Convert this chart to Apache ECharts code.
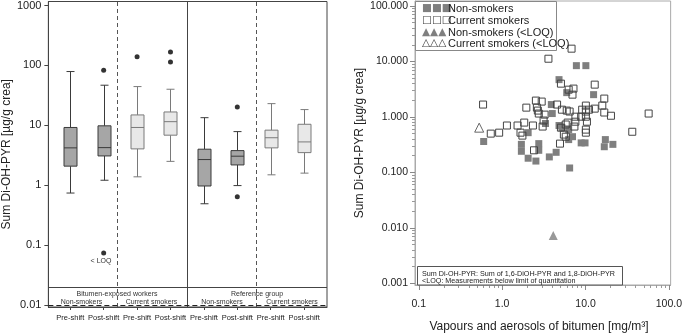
<!DOCTYPE html>
<html><head><meta charset="utf-8">
<script src="https://cdn.jsdelivr.net/npm/echarts@6/dist/echarts.min.js"></script>
<style>html,body{margin:0;padding:0;background:#fff}#c{width:685px;height:336px}</style>
</head><body><div id="c"></div>
<script>
// ---------- LEFT: box plots ----------
const groups = ['Pre-shift','Post-shift','Pre-shift','Post-shift','Pre-shift','Post-shift','Pre-shift','Post-shift'];
const groupPos = [1,2,3,4,5,6,7,8];
// [min, q1, median, q3, max]
const boxStats = [
  [0.74, 2.08, 4.2, 9.2, 79],
  [1.21, 3.08, 4.24, 9.8, 46.7],
  [1.38, 4.04, 9.2, 14.9, 44.3],
  [2.5, 6.84, 11.5, 16.7, 40],
  [0.49, 0.97, 2.68, 3.99, 13.4],
  [0.985, 2.18, 3.05, 3.78, 7.85],
  [1.49, 4.2, 6.2, 8.3, 23],
  [1.59, 3.5, 5.28, 10.4, 18.3]
];
const boxSmoker = [false,false,true,true,false,false,true,true];
const outliers = [[2,83],[2,0.074],[3,140],[4,168],[4,114],[6,20.3],[6,0.64]];
const leftYTicks = [0.01,0.1,1,10,100,1000];

// ---------- RIGHT: scatter ----------
const nonSmokers = [
  [0.60,0.36],[1.70,0.32],[1.70,0.24],[2.05,0.52],[2.05,0.18],[2.54,0.16],[2.75,0.33],[2.75,0.25],
  [3.31,0.76],[3.89,1.67],[3.99,1.15],[3.68,0.19],[4.44,0.23],[4.81,4.70],[5.95,2.74],[7.77,8.40],
  [10.1,8.40],[4.81,0.70],[5.21,0.64],[6.28,0.59],[6.28,0.39],[6.98,0.44],[6.45,0.12],[8.87,0.34],
  [9.87,0.34],[12.5,2.52],[17.3,0.39],[16.8,0.29],[21.3,0.32]
];
const currentSmokers = [
  [0.59,1.67],[0.73,0.50],[0.92,0.52],[1.14,0.70],[1.53,0.70],[1.66,0.52],[1.75,0.46],[1.84,0.79],
  [1.95,1.47],[2.34,0.70],[2.54,1.97],[2.98,1.89],[2.61,1.47],[2.68,1.30],[2.75,1.15],[3.23,1.10],
  [3.14,0.86],[3.06,0.67],[2.41,0.25],[3.59,11.2],[4.56,1.67],[6.80,17.0],[5.07,3.98],[6.28,3.10],
  [7.17,3.24],[6.98,2.52],[5.21,1.35],[5.95,1.30],[6.45,1.25],[7.56,1.01],[8.87,1.01],[10.1,1.25],
  [11.0,1.35],[10.1,1.60],[12.9,3.82],[16.8,2.14],[12.9,1.41],[15.9,1.60],[16.8,1.20],[20.2,1.05],
  [10.1,1.01],[10.4,0.82],[10.1,0.59],[10.1,0.52],[5.07,0.64],[5.79,0.73],[6.11,0.79],[7.36,0.67],
  [7.56,0.82],[5.50,0.48],[5.79,0.44],[4.94,0.33],[57.2,1.15],[36.4,0.54],[9.12,1.35]
];
const nonSmokersLOQ = [[4.10,0.0073]];
const currentSmokersLOQ = [[0.53,0.64]];
const rightYTicks = [0.001,0.01,0.1,1,10,100];
const rightXTicks = [0.1,1,10,100];
function minorTicks(lo, hi){ const r=[]; for(let e=lo;e<hi;e++){ for(let m=2;m<=9;m++) r.push(+(m*Math.pow(10,e)).toPrecision(3)); } return r; }
const rightXMinor = minorTicks(-1,2);
const rightYMinor = minorTicks(-3,2);

const FONT = '"Liberation Sans", Arial, sans-serif';
const chart = echarts.init(document.getElementById('c'), null, {renderer:'canvas'});

function renderBox(params, api){
  const x = api.value(0);
  const p = [1,2,3,4,5].map(d => api.coord([x, api.value(d)]));
  const cx = Math.round(p[0][0]) + 0.5;
  const hw = 6.5, cw = 4;
  const smoker = boxSmoker[params.dataIndex];
  const stroke = smoker ? '#7a7a7a' : '#3a3a3a';
  const fill = smoker ? '#e8e8e8' : '#a6a6a6';
  const s = {stroke, lineWidth:1, fill:null};
  return {type:'group', children:[
    {type:'line', shape:{x1:cx,y1:p[0][1],x2:cx,y2:p[1][1]}, style:s},
    {type:'line', shape:{x1:cx,y1:p[3][1],x2:cx,y2:p[4][1]}, style:s},
    {type:'line', shape:{x1:cx-cw,y1:p[0][1],x2:cx+cw,y2:p[0][1]}, style:s},
    {type:'line', shape:{x1:cx-cw,y1:p[4][1],x2:cx+cw,y2:p[4][1]}, style:s},
    {type:'rect', shape:{x:cx-hw,y:p[3][1],width:2*hw,height:p[1][1]-p[3][1]}, style:{fill, stroke, lineWidth:1}},
    {type:'line', shape:{x1:cx-hw,y1:p[2][1],x2:cx+hw,y2:p[2][1]}, style:s}
  ]};
}

function label(x, y, text, size, extra){
  return {type:'text', x, y, silent:true, z:11, style:Object.assign({text, fontSize:size, fontFamily:FONT, fill:'#333',
    align:'center', verticalAlign:'middle'}, extra||{})};
}
const leftAlign = {align:'left', fill:'#222'};

const option = {
  animation:false,
  backgroundColor:'#fff',
  grid:[
    {left:47, top:1, width:280, height:306, show:true, borderColor:'#444', borderWidth:1, backgroundColor:'transparent'},
    {left:415, top:1, width:266, height:284, show:true, borderColor:'#aaa', borderWidth:1, backgroundColor:'transparent'}
  ],
  xAxis:[
    {gridIndex:0, type:'value', min:0.345, max:8.685,
      axisLine:{show:true, lineStyle:{color:'#444'}},
      axisTick:{show:true, customValues:groupPos, length:3, lineStyle:{color:'#444'}},
      axisLabel:{customValues:groupPos, formatter:v => groups[Math.round(v)-1], fontSize:7.5, fontFamily:FONT, color:'#222', margin:7},
      splitLine:{show:false}},
    {gridIndex:1, type:'log', min:0.09, max:105, position:'bottom',
      axisLine:{show:true, lineStyle:{color:'#aaa'}},
      axisTick:{show:true, customValues:rightXTicks, length:5, lineStyle:{color:'#888'}},
      axisLabel:{customValues:rightXTicks, formatter:v => Number(v).toFixed(1), fontSize:10.5, fontFamily:FONT, color:'#222', margin:14},
      splitLine:{show:false}},
    {gridIndex:1, type:'log', min:0.09, max:105, position:'bottom',
      axisLine:{show:false}, axisLabel:{show:false}, splitLine:{show:false},
      axisTick:{show:true, customValues:rightXMinor, length:3, lineStyle:{color:'#999'}}}
  ],
  yAxis:[
    {gridIndex:0, type:'log', min:0.00926, max:1166,
      axisLine:{show:true, lineStyle:{color:'#444'}},
      axisTick:{show:true, customValues:leftYTicks, length:4, lineStyle:{color:'#444'}},
      axisLabel:{customValues:leftYTicks, formatter:v => String(Number(v)), fontSize:11, fontFamily:FONT, color:'#222', margin:7},
      splitLine:{show:false},
      name:'Sum Di-OH-PYR [µg/g crea]', nameLocation:'middle', nameRotate:90, nameGap:31,
      nameTextStyle:{fontSize:12, fontFamily:FONT, color:'#222'}},
    {gridIndex:1, type:'log', min:0.000932, max:123,
      axisLine:{show:true, lineStyle:{color:'#aaa'}},
      axisTick:{show:true, customValues:rightYTicks, length:5, lineStyle:{color:'#888'}},
      axisLabel:{customValues:rightYTicks, formatter:v => Number(v).toFixed(3), fontSize:10.5, fontFamily:FONT, color:'#222', margin:7},
      splitLine:{show:false},
      name:'Sum Di-OH-PYR [µg/g crea]', nameLocation:'middle', nameRotate:90, nameGap:49,
      nameTextStyle:{fontSize:12, fontFamily:FONT, color:'#222'}},
    {gridIndex:1, type:'log', min:0.000932, max:123, position:'left',
      axisLine:{show:false}, axisLabel:{show:false}, splitLine:{show:false},
      axisTick:{show:true, customValues:rightYMinor, length:3, lineStyle:{color:'#999'}}}
  ],
  series:[
    {type:'custom', xAxisIndex:0, yAxisIndex:0, renderItem:renderBox,
      encode:{x:0, y:[1,2,3,4,5]},
      data: boxStats.map((b,i) => [groupPos[i]].concat(b)), z:3},
    {type:'scatter', xAxisIndex:0, yAxisIndex:0, data:outliers, symbol:'circle', symbolSize:5,
      itemStyle:{color:'#000'}, z:4,
      markLine:{silent:true, symbol:'none', label:{show:false}, animation:false,
        data:[
          {xAxis:2.42, lineStyle:{type:[4,3], color:'#555', width:1}},
          {xAxis:4.5, lineStyle:{type:'solid', color:'#444', width:1}},
          {xAxis:6.58, lineStyle:{type:[4,3], color:'#555', width:1}},
          {yAxis:0.0179, lineStyle:{type:'solid', color:'#444', width:1}},
          {yAxis:0.0126, lineStyle:{type:[5,3], color:'#222', width:1}}
        ]}},
    {type:'scatter', name:'Non-smokers', xAxisIndex:1, yAxisIndex:1, data:nonSmokers, symbol:'rect', symbolSize:7,
      itemStyle:{color:'#7f7f7f', opacity:1}},
    {type:'scatter', name:'Current smokers', xAxisIndex:1, yAxisIndex:1, data:currentSmokers, symbol:'rect', symbolSize:7,
      itemStyle:{color:'rgba(255,255,255,0)', borderColor:'#444', borderWidth:1, opacity:1}},
    {type:'scatter', name:'Non-smokers (<LOQ)', xAxisIndex:1, yAxisIndex:1, data:nonSmokersLOQ, symbol:'triangle', symbolSize:9,
      itemStyle:{color:'#7f7f7f'}},
    {type:'scatter', name:'Current smokers (<LOQ)', xAxisIndex:1, yAxisIndex:1, data:currentSmokersLOQ, symbol:'triangle', symbolSize:9,
      itemStyle:{color:'rgba(255,255,255,0)', borderColor:'#444', borderWidth:1}}
  ],
  graphic:[
    label(117, 293.7, 'Bitumen-exposed workers', 7),
    label(257, 293.7, 'Reference group', 7),
    label(81.5, 302.5, 'Non-smokers', 7),
    label(151.5, 302.5, 'Current smokers', 7),
    label(222, 302.5, 'Non-smokers', 7),
    label(292, 302.5, 'Current smokers', 7),
    label(101, 261, '< LOQ', 7),
    // x-axis title of the scatter plot
    label(539, 327, 'Vapours and aerosols of bitumen [mg/m³]', 12, {fill:'#222'}),
    // legend box
    {type:'rect', shape:{x:415.5, y:1.5, width:141, height:49}, style:{fill:'#fff', stroke:'#888', lineWidth:1}, silent:true, z:10},
    label(422, 8.5, '■■■', 10.5, {fontFamily:'DejaVu Sans', fill:'#7f7f7f', align:'left'}),
    label(422, 20.5, '□□□', 10.5, {fontFamily:'DejaVu Sans', fill:'#444', align:'left'}),
    label(422, 32.5, '▲▲▲', 10.5, {fontFamily:'DejaVu Sans', fill:'#7f7f7f', align:'left'}),
    label(422, 43.5, '△△△', 10.5, {fontFamily:'DejaVu Sans', fill:'#444', align:'left'}),
    label(448, 8.5, 'Non-smokers', 11, leftAlign),
    label(448, 20.5, 'Current smokers', 11, leftAlign),
    label(448, 32.5, 'Non-smokers (<LOQ)', 11, leftAlign),
    label(448, 43.5, 'Current smokers (<LOQ)', 11, leftAlign),
    // footnote box
    {type:'rect', shape:{x:417.5, y:266.5, width:205, height:18.5}, style:{fill:'#fff', stroke:'#555', lineWidth:1}, silent:true, z:10},
    label(422, 274, 'Sum Di-OH-PYR: Sum of 1,6-DiOH-PYR and 1,8-DiOH-PYR', 7.2, leftAlign),
    label(422, 281, '<LOQ: Measurements below limit of quantitation', 7.2, leftAlign)
  ]
};
chart.setOption(option);
</script>
</body></html>
